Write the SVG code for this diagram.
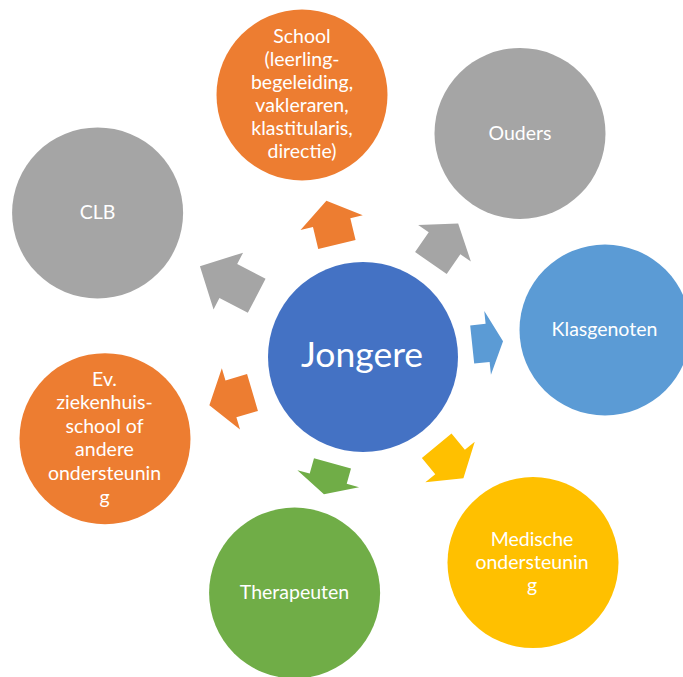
<svg xmlns="http://www.w3.org/2000/svg" width="683" height="677" viewBox="0 0 683 677">
<style>
.t{font-family:Lato,"Open Sans","Liberation Sans",sans-serif;font-size:19.5px;fill:#FFFFFF;text-anchor:middle}
.big{font-size:35.5px}
.blue{fill:#4472C4}.orange{fill:#ED7D31}.gray{fill:#A5A5A5}.yellow{fill:#FFC000}.lblue{fill:#5B9BD5}.green{fill:#70AD47}
</style>
<rect width="683" height="677" fill="#FFFFFF"/>
<g id="connectors">
<polygon class="orange" transform="translate(336.9,244.5) rotate(-103.5)" points="0,-19.2 22.5,-19.2 22.5,-32 45,0 22.5,32 22.5,19.2 0,19.2"/>
<polygon class="gray" transform="translate(430.9,263) rotate(-55.4)" points="0,-19.2 24,-19.2 24,-32 48,0 24,32 24,19.2 0,19.2"/>
<polygon class="lblue" transform="translate(472.2,344.5) rotate(-6)" points="0,-19.2 15.5,-19.2 15.5,-32 31,0 15.5,32 15.5,19.2 0,19.2"/>
<polygon class="yellow" transform="translate(436.7,445.8) rotate(50.5)" points="0,-19.2 21,-19.2 21,-32 42,0 21,32 21,19.2 0,19.2"/>
<polygon class="green" transform="translate(332.5,463.3) rotate(105.5)" points="0,-19.2 16,-19.2 16,-32 32,0 16,32 16,19.2 0,19.2"/>
<polygon class="orange" transform="translate(252.5,392.5) rotate(163.5)" points="0,-19.2 22.5,-19.2 22.5,-32 45,0 22.5,32 22.5,19.2 0,19.2"/>
<polygon class="gray" transform="translate(256.7,295.8) rotate(-152.5)" points="0,-19.2 32,-19.2 32,-32 64,0 32,32 32,19.2 0,19.2"/>
</g>
<g id="jongere">
<circle class="blue" cx="363" cy="357" r="95"/>
<text class="t big" x="362" y="367">Jongere</text>
</g>
<g id="school">
<circle class="orange" cx="302" cy="95" r="85.5"/>
<text class="t" x="302" y="43">School</text>
<text class="t" x="302" y="66">(leerling-</text>
<text class="t" x="302" y="89">begeleiding,</text>
<text class="t" x="302" y="112">vakleraren,</text>
<text class="t" x="302" y="135">klastitularis,</text>
<text class="t" x="302" y="158">directie)</text>
</g>
<g id="ouders">
<circle class="gray" cx="520" cy="133.4" r="85.5"/>
<text class="t" x="520" y="140">Ouders</text>
</g>
<g id="klasgenoten">
<circle class="lblue" cx="605" cy="330" r="85.5"/>
<text class="t" x="604.5" y="336">Klasgenoten</text>
</g>
<g id="medische">
<circle class="yellow" cx="533" cy="562.6" r="85.5"/>
<text class="t" x="532" y="546">Medische</text>
<text class="t" x="532" y="569">ondersteunin</text>
<text class="t" x="532" y="592">g</text>
</g>
<g id="therapeuten">
<circle class="green" cx="294.6" cy="593" r="85.5"/>
<text class="t" x="294.5" y="599">Therapeuten</text>
</g>
<g id="ziekenhuis">
<circle class="orange" cx="105" cy="438.7" r="85.5"/>
<text class="t" x="104.5" y="386">Ev.</text>
<text class="t" x="104.5" y="409">ziekenhuis-</text>
<text class="t" x="104.5" y="433">school of</text>
<text class="t" x="104.5" y="456">andere</text>
<text class="t" x="104.5" y="480">ondersteunin</text>
<text class="t" x="104.5" y="504">g</text>
</g>
<g id="clb">
<circle class="gray" cx="97.6" cy="212.9" r="85.5"/>
<text class="t" x="97.6" y="219">CLB</text>
</g>
</svg>
